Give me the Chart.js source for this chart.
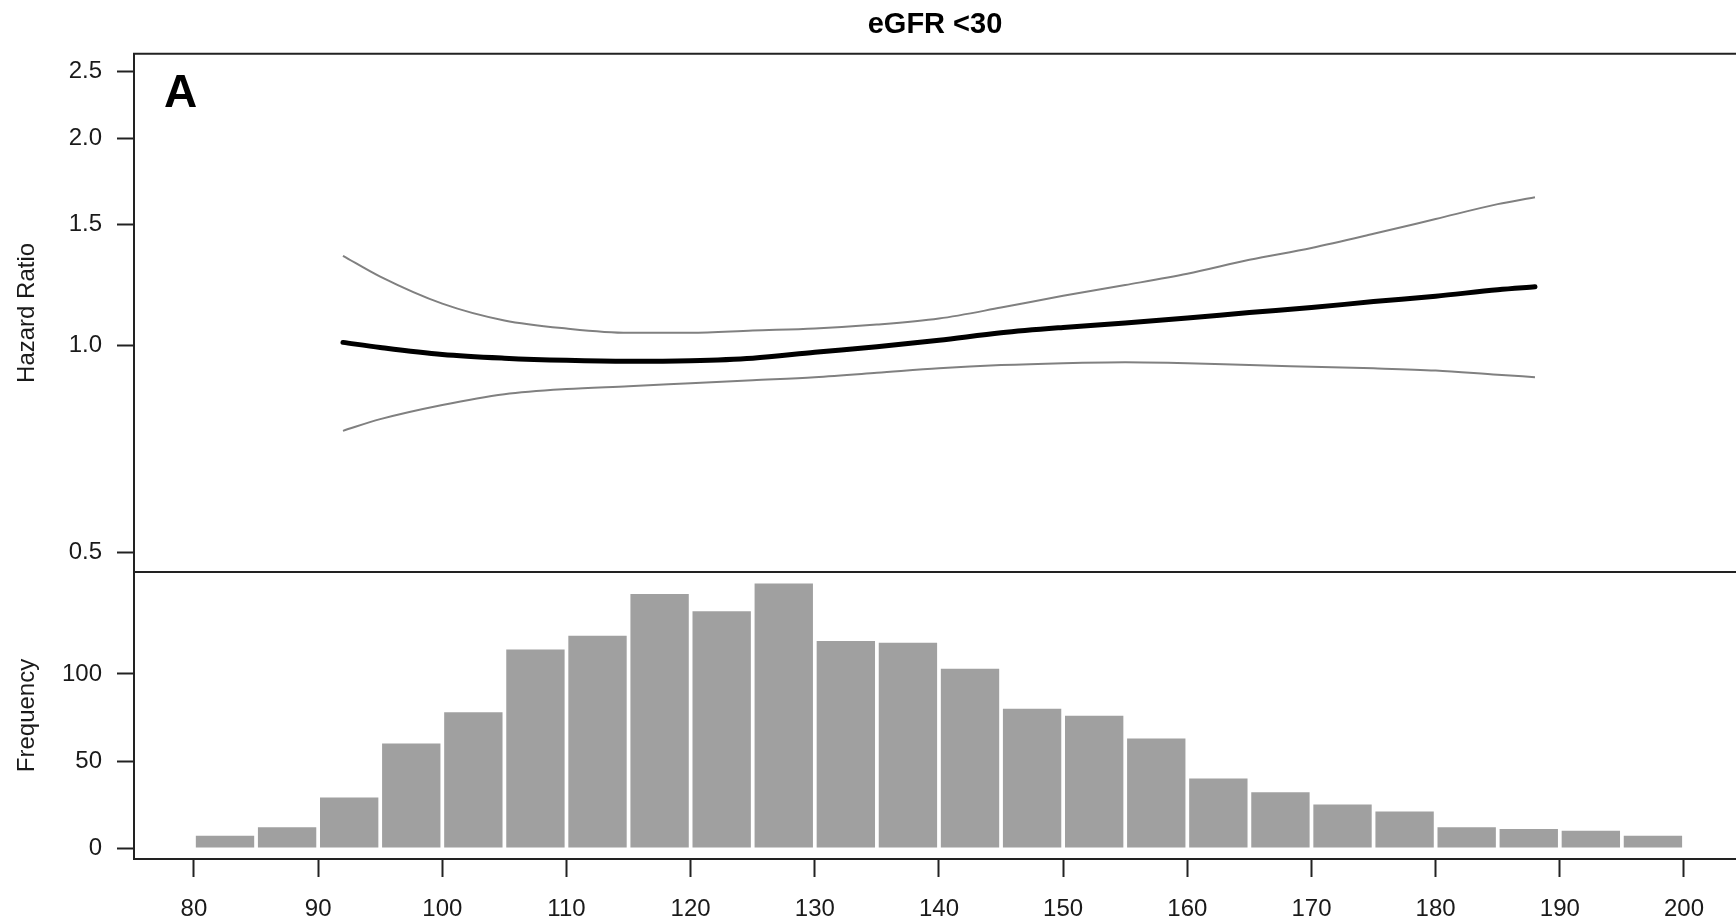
<!DOCTYPE html>
<html>
<head>
<meta charset="utf-8">
<title>eGFR &lt;30</title>
<script src="https://cdn.jsdelivr.net/npm/chart.js@4.4.1/dist/chart.umd.min.js"></script>
<style>
  body { margin: 0; background: #fff; }
  #wrap { position: relative; width: 1736px; height: 920px; }
  canvas { position: absolute; left: 0; }
  #hr { top: 0; }
  #freq { top: 571px; }
</style>
</head>
<body>
<div id="wrap">
  <canvas id="hr" width="1736" height="574"></canvas>
  <canvas id="freq" width="1736" height="349"></canvas>
</div>
<script>
// spline fit: hazard ratio with 95% band
var bpPoints   = [92, 95, 100, 105, 110, 115, 120, 125, 130, 135, 140, 145, 150, 155, 160, 165, 170, 175, 180, 185, 188];
var hrEstimate = [1.010, 0.993, 0.970, 0.958, 0.951, 0.948, 0.950, 0.958, 0.977, 0.995, 1.017, 1.043, 1.062, 1.078, 1.096, 1.116, 1.135, 1.158, 1.179, 1.205, 1.217];
var hrLower    = [0.751, 0.781, 0.819, 0.849, 0.864, 0.872, 0.881, 0.890, 0.899, 0.912, 0.926, 0.936, 0.942, 0.945, 0.942, 0.936, 0.931, 0.926, 0.919, 0.906, 0.899];
var hrUpper    = [1.350, 1.259, 1.150, 1.087, 1.058, 1.043, 1.043, 1.051, 1.058, 1.072, 1.094, 1.135, 1.181, 1.224, 1.271, 1.332, 1.386, 1.453, 1.527, 1.605, 1.643];
var hrTicks    = [0.5, 1.0, 1.5, 2.0, 2.5];

// histogram, bins of 5
var binCentres = [82.5, 87.5, 92.5, 97.5, 102.5, 107.5, 112.5, 117.5, 122.5, 127.5, 132.5, 137.5,
                  142.5, 147.5, 152.5, 157.5, 162.5, 167.5, 172.5, 177.5, 182.5, 187.5, 192.5, 197.5];
var binCounts  = [7, 12, 29, 60, 78, 114, 122, 146, 136, 152, 119, 118,
                  103, 80, 76, 63, 40, 32, 25, 21, 12, 11, 10, 7];
var freqTicks  = [0, 50, 100];
var bpTicks    = [80, 90, 100, 110, 120, 130, 140, 150, 160, 170, 180, 190, 200];

var xMin = 75.17, xMax = 204.19;
var ink = '#1a1a1a';
var fam = '"Liberation Sans", Arial, Helvetica, sans-serif';

Chart.defaults.font.family = fam;
Chart.defaults.color = ink;
Chart.defaults.animation = false;

// box lines around the plot area (right side is open)
var frame = {
    id: 'frame',
    afterDraw: function(chart, args, opts){
        var ctx = chart.ctx, a = chart.chartArea;
        ctx.save();
        ctx.strokeStyle = '#222';
        ctx.lineWidth = 2;
        ctx.beginPath();
        ctx.moveTo(chart.width, a.top);
        ctx.lineTo(a.left, a.top);
        ctx.lineTo(a.left, a.bottom);
        if (opts.bottom) ctx.lineTo(chart.width, a.bottom);
        ctx.stroke();
        ctx.restore();
    }
};

var panelTag = {
    id: 'panelTag',
    afterDraw: function(chart, args, opts){
        if (!opts.text) return;
        var ctx = chart.ctx, a = chart.chartArea;
        ctx.save();
        ctx.fillStyle = '#000';
        ctx.font = 'bold 46px ' + fam;
        ctx.textBaseline = 'alphabetic';
        ctx.fillText(opts.text, a.left + 30, a.top + 53);
        ctx.restore();
    }
};

function yAxisFit(s){
    s.width = 134;
    s.paddingTop = 0;
    s.paddingBottom = 0;
}

function toPoints(xs, ys){
    return xs.map(function(x, i){ return {x: x, y: ys[i]}; });
}

var tickGrid = {drawOnChartArea: false, drawTicks: true, tickLength: 17, tickColor: '#222', tickWidth: 2};

// ---------------------------------------------------------------- hazard ratio
var hrChart = new Chart(document.getElementById('hr'), {
    type: 'line',
    data: {
        datasets: [{
            label: 'lower',
            data: toPoints(bpPoints, hrLower),
            borderColor: '#808080',
            borderWidth: 2,
            pointRadius: 0,
            cubicInterpolationMode: 'monotone'
        }, {
            label: 'upper',
            data: toPoints(bpPoints, hrUpper),
            borderColor: '#808080',
            borderWidth: 2,
            pointRadius: 0,
            cubicInterpolationMode: 'monotone'
        }, {
            label: 'HR',
            data: toPoints(bpPoints, hrEstimate),
            borderColor: '#000',
            borderWidth: 5,
            borderCapStyle: 'round',
            pointRadius: 0,
            cubicInterpolationMode: 'monotone'
        }]
    },
    options: {
        responsive: false,
        events: [],
        layout: {padding: {top: 0, left: 0, right: 0, bottom: 2}},
        plugins: {
            legend: {display: false},
            tooltip: {enabled: false},
            title: {
                display: true,
                text: 'eGFR <30',
                fullSize: false,
                color: '#000',
                font: {size: 29, weight: 'bold'},
                padding: {top: 8, bottom: 11}
            },
            frame: {bottom: false},
            panelTag: {text: 'A'}
        },
        scales: {
            x: {type: 'linear', min: xMin, max: xMax, display: false},
            y: {
                type: 'logarithmic',
                min: 0.468,
                max: 2.656,
                afterBuildTicks: function(s){ s.ticks = hrTicks.map(function(v){ return {value: v}; }); },
                afterFit: yAxisFit,
                grid: tickGrid,
                border: {display: false},
                ticks: {padding: 15, font: {size: 24}, callback: function(v){ return Number(v).toFixed(1); }},
                title: {display: true, text: 'Hazard Ratio', font: {size: 24}, padding: {top: 13, bottom: 0}}
            }
        }
    },
    plugins: [frame, panelTag]
});

// ---------------------------------------------------------------- frequency
var freqChart = new Chart(document.getElementById('freq'), {
    type: 'bar',
    data: {
        datasets: [{
            label: 'Frequency',
            data: toPoints(binCentres, binCounts),
            backgroundColor: '#a0a0a0',
            borderWidth: 0,
            categoryPercentage: 1,
            barPercentage: 0.94
        }]
    },
    options: {
        responsive: false,
        events: [],
        layout: {padding: {top: 1, left: 0, right: 0, bottom: 0}},
        plugins: {
            legend: {display: false},
            tooltip: {enabled: false},
            frame: {bottom: true}
        },
        scales: {
            x: {
                type: 'linear',
                min: xMin,
                max: xMax,
                offset: false,
                afterBuildTicks: function(s){ s.ticks = bpTicks.map(function(v){ return {value: v}; }); },
                afterFit: function(s){ s.height = 61; s.paddingLeft = 0; s.paddingRight = 0; },
                grid: {offset: false, drawOnChartArea: false, drawTicks: true, tickLength: 18, tickColor: '#222', tickWidth: 2},
                border: {display: false},
                ticks: {autoSkip: false, maxRotation: 0, padding: 18, font: {size: 24}}
            },
            y: {
                type: 'linear',
                min: -6.3,
                max: 158.6,
                afterBuildTicks: function(s){ s.ticks = freqTicks.map(function(v){ return {value: v}; }); },
                afterFit: yAxisFit,
                grid: tickGrid,
                border: {display: false},
                ticks: {padding: 15, font: {size: 24}},
                title: {display: true, text: 'Frequency', font: {size: 24}, padding: {top: 13, bottom: 0}}
            }
        }
    },
    plugins: [frame]
});
</script>
</body>
</html>
